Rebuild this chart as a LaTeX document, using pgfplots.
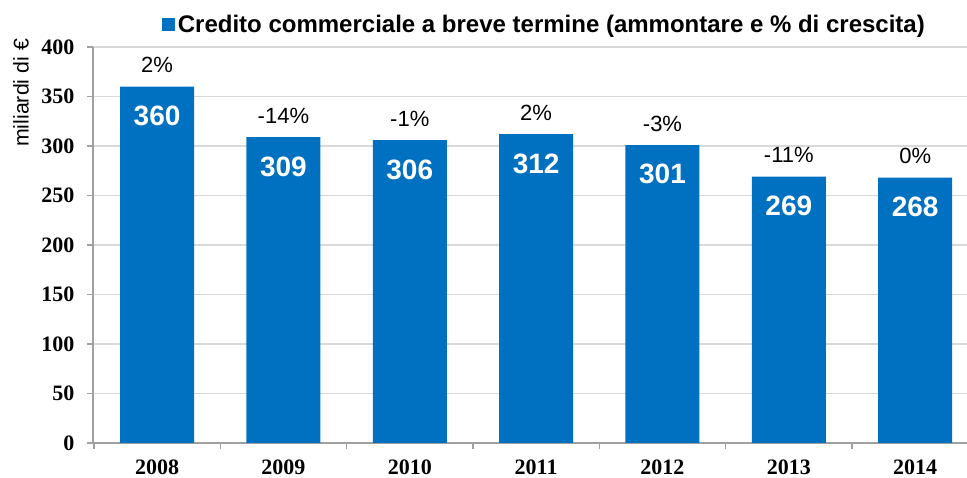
\documentclass[border=0pt]{standalone}
\usepackage{fontspec}
\setmainfont{Liberation Sans}
\newfontfamily\serifb{Liberation Serif}
\newfontfamily\legfont{Liberation Sans}
\usepackage{pgfplots}
\usepackage{pgfplotstable}
\pgfplotsset{compat=1.18}
\definecolor{barblue}{RGB}{0,112,192}
\definecolor{gridgray}{RGB}{217,217,217}
\definecolor{axgray}{RGB}{160,160,160}

\pgfplotstableread{
x y pct
0 360 2
1 309 -14
2 306 -1
3 312 2
4 301 -3
5 269 -11
6 268 0
}\data

\begin{document}
\begin{tikzpicture}
\useasboundingbox (-69.75pt,-26.25pt) rectangle (655.5pt,332.25pt);
\begin{axis}[
  scale only axis,
  width=655.5pt, height=297pt,
  xmin=-0.507, xmax=6.41,
  ymin=0, ymax=400,
  axis x line*=bottom, axis y line*=left,
  axis line style={axgray, line width=1pt},
  xtick={0,...,6},
  xticklabels={2008,2009,2010,2011,2012,2013,2014},
  minor xtick={-0.5,0.5,1.5,2.5,3.5,4.5,5.5},
  major x tick style={draw=none},
  minor x tick style={axgray, line width=1pt},
  ytick={0,50,...,400},
  y tick style={axgray, line width=1pt},
  tick align=outside,
  major tick length=4.5pt,
  minor tick length=4.5pt,
  ymajorgrids,
  major grid style={gridgray, line width=1pt},
  /pgf/number format/assume math mode=true,
  ticklabel style={font=\serifb\bfseries\fontsize{16.5}{18}\selectfont},
  xticklabel style={yshift=-4.5pt},
  yticklabel style={xshift=-6pt},
  ylabel={miliardi di €},
  ylabel style={at={(axis description cs:-0.0824,0.884)}, anchor=center, font=\fontsize{16}{18}\selectfont},
  legend style={at={(axis description cs:0.517,1.056)}, anchor=center, draw=none, fill=none,
    font=\legfont\bfseries\fontsize{18}{21}\selectfont},
]
\addplot[ybar, fill=barblue, draw=none, bar width=55.5pt, bar shift=0pt,
  legend image code/.code={\fill[barblue] (0pt,-4.9pt) rectangle (9.8pt,4.9pt);},
  point meta=explicit symbolic,
  nodes near coords={\pgfplotspointmeta\%},
  nodes near coords style={font=\fontsize{16.5}{18}\selectfont, black, anchor=center, yshift=16pt}]
  table[x=x, y=y, meta=pct] {\data};
\addlegendentry{Credito commerciale a breve termine (ammontare e \% di crescita)}
\addplot[ybar, fill=none, draw=none, bar width=55.5pt, bar shift=0pt, forget plot,
  point meta=explicit symbolic,
  nodes near coords={\pgfplotspointmeta},
  nodes near coords style={font=\bfseries\fontsize{21}{24}\selectfont, white, anchor=center, yshift=-22pt}]
  table[x=x, y=y, meta=y] {\data};
\end{axis}
\end{tikzpicture}
\end{document}
